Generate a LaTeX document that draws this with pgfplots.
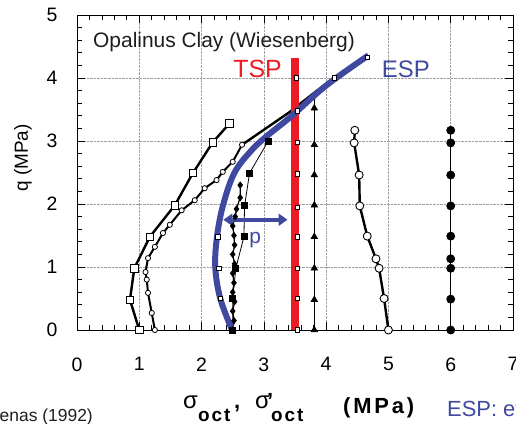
\documentclass[border=0pt]{standalone}
\usepackage{pgfplots}
\pgfplotsset{compat=1.18}
\usepackage{fontspec}
\setmainfont{Liberation Sans}
\usetikzlibrary{arrows.meta}
\definecolor{espblue}{RGB}{64,73,160}
\definecolor{tspred}{RGB}{237,28,36}
\definecolor{txtgray}{RGB}{30,30,30}
\begin{document}
\begin{tikzpicture}
\begin{axis}[name=ax, scale only axis, width=436bp, height=315bp,
  xmin=0, xmax=7, ymin=0, ymax=5,
  xtick={0,1,...,7}, ytick={0,1,...,5},
  minor x tick num=4, minor y tick num=4,
  tick align=inside, tick pos=both,
  major tick length=8bp, minor tick length=5bp,
  every tick/.style={black, line width=0.7pt},
  grid=major, major grid style={densely dotted, gray!75, line width=0.7pt},
  axis line style={line width=0.9pt},
  /pgf/number format/assume math mode=true,
  ticklabel style={font=\fontsize{19.5}{19.5}\selectfont},
  xticklabel shift=24bp, yticklabel shift=16bp,
  clip=false]
% series A: open squares, thick
\addplot[black, line width=2.4bp, mark=square*, mark size=3.8bp, mark options={draw=black, fill=white, line width=0.9bp}]
 coordinates {(1.0,0) (0.85,0.48) (0.92,0.98) (1.17,1.48) (1.57,1.98) (1.86,2.49) (2.18,2.98) (2.45,3.28)};
% thick joint line upper
\addplot[black, line width=2.4bp] coordinates {(2.65,2.94) (3.4,3.45) (3.84,3.79) (4.13,4.0) (4.66,4.33)};
% series B: small open circles
\addplot[black, line width=2bp, mark=*, mark size=2.6bp, mark options={draw=black, fill=white, line width=0.8bp}]
 coordinates {(1.25,0) (1.2,0.27) (1.14,0.59) (1.12,0.8) (1.1,0.92) (1.14,1.14) (1.25,1.32) (1.38,1.54) (1.49,1.67) (1.68,1.9) (1.89,2.06) (2.05,2.25) (2.24,2.38) (2.34,2.51) (2.5,2.67) (2.65,2.94)};
% small open squares
\addplot[only marks, mark=square*, mark size=2.2bp, mark options={draw=black, fill=white, line width=0.7bp}]
 coordinates {(3.54,0) (3.54,0.5) (3.54,0.98) (3.54,1.48) (3.54,1.95) (3.54,2.48) (3.54,2.98) (3.54,3.48) (3.52,4.0) (4.13,4.0) (4.66,4.33) (2.3,0.5) (2.28,0.98) (2.26,1.48)};
% series C: filled diamonds
\addplot[black, line width=1.2bp, mark=diamond*, mark size=2.8bp]
 coordinates {(2.5,0) (2.52,0.15) (2.5,0.3) (2.53,0.45) (2.5,0.6) (2.52,0.75) (2.5,0.9) (2.53,1.05) (2.5,1.2) (2.53,1.35) (2.52,1.5) (2.5,1.65) (2.54,1.8) (2.56,1.92) (2.62,2.1) (2.62,2.3)};
% series D: filled squares thin
\addplot[black, line width=0.8bp, mark=square*, mark size=3bp]
 coordinates {(2.5,0) (2.5,0.5) (2.55,0.98) (2.68,1.48) (2.69,1.97) (2.77,2.49) (3.07,3.0)};
% series E: filled triangles
\addplot[black, line width=0.8bp, mark=triangle*, mark size=3.6bp]
 coordinates {(3.81,0) (3.81,0.48) (3.81,0.98) (3.81,1.48) (3.81,1.98) (3.81,2.46) (3.81,2.94) (3.81,3.52)};
\addplot[black, line width=0.8bp] coordinates {(3.81,3.52) (3.82,3.79)};
% series F: large open circles
\addplot[black, line width=2.4bp, mark=*, mark size=4bp, mark options={draw=black, fill=white, line width=0.9bp}]
 coordinates {(5.0,0) (4.93,0.5) (4.85,0.98) (4.8,1.13) (4.66,1.49) (4.54,1.97) (4.53,2.46) (4.45,2.97) (4.46,3.17)};
% series G: filled circles
\addplot[black, line width=0.8bp, mark=*, mark size=4bp]
 coordinates {(6,0) (6,0.49) (6,0.98) (6,1.13) (6,1.49) (6,1.97) (6,2.46) (6,2.97) (6,3.17)};
% TSP
\addplot[tspred, line width=8bp] coordinates {(3.5,0) (3.5,4.32)};
% ESP
\addplot[espblue, line width=6bp, smooth, tension=0.6] coordinates {(2.49,0) (2.3,0.5) (2.22,1.0) (2.25,1.5) (2.35,2.0) (2.53,2.5) (2.8,2.85) (3.05,3.08) (3.45,3.4) (4.0,3.88) (4.68,4.36)};
\draw[espblue, line width=3.5bp, {Triangle[length=9bp,width=12bp]}-{Triangle[length=9bp,width=12bp]}] (axis cs:2.35,1.75) -- (axis cs:3.38,1.75);
\node[espblue, anchor=base, font=\fontsize{21}{21}\selectfont, inner sep=0pt] at (axis cs:2.86,1.38) {p};
\node[tspred, anchor=center, font=\fontsize{25}{25}\selectfont, inner sep=0pt] at (axis cs:2.9,4.14) {TSP};
\node[espblue, anchor=center, font=\fontsize{24}{24}\selectfont, inner sep=0pt] at (axis cs:5.28,4.14) {ESP};
\node[txtgray, anchor=base west, font=\fontsize{21}{21}\selectfont, inner sep=0pt] at (axis cs:0.257,4.48) {Opalinus Clay (Wiesenberg)};
\end{axis}
\node[rotate=90, anchor=center, font=\fontsize{19}{19}\selectfont, inner sep=0pt] at ([xshift=-54bp, yshift=172bp]ax.south west) {q (MPa)};
% x label pieces
\node[anchor=base west, inner sep=0pt, font=\fontsize{24}{24}\selectfont] at ([xshift=106bp, yshift=-78bp]ax.south west) {σ};
\node[anchor=base west, inner sep=0pt, font=\fontsize{19}{19}\selectfont\bfseries\addfontfeatures{LetterSpace=10}] at ([xshift=121bp, yshift=-91bp]ax.south west) {oct};
\node[anchor=base west, inner sep=0pt, font=\fontsize{22}{22}\selectfont\bfseries] at ([xshift=157bp, yshift=-78bp]ax.south west) {,};
\node[anchor=base west, inner sep=0pt, font=\fontsize{24}{24}\selectfont] at ([xshift=178bp, yshift=-78bp]ax.south west) {σ};
\node[anchor=base west, inner sep=0pt, font=\fontsize{22}{22}\selectfont\bfseries] at ([xshift=190bp, yshift=-78bp]ax.south west) {'};
\node[anchor=base west, inner sep=0pt, font=\fontsize{19}{19}\selectfont\bfseries\addfontfeatures{LetterSpace=10}] at ([xshift=194bp, yshift=-91bp]ax.south west) {oct};
\node[anchor=base west, inner sep=0pt, font=\fontsize{22}{22}\selectfont\bfseries\addfontfeatures{LetterSpace=13}] at ([xshift=266bp, yshift=-83bp]ax.south west) {(MPa)};
\node[anchor=base east, txtgray, font=\fontsize{17.5}{17.5}\selectfont, inner sep=0pt] at ([xshift=16bp, yshift=-91bp]ax.south west) {Aristorenas (1992)};
\node[anchor=base west, espblue, font=\fontsize{22}{22}\selectfont, inner sep=0pt] at ([xshift=370bp, yshift=-86bp]ax.south west) {ESP: effective stress path};
\pgfresetboundingbox
\path[use as bounding box] ([xshift=-77bp, yshift=-93bp]ax.south west) rectangle ([xshift=3bp, yshift=15bp]ax.north east);
\end{tikzpicture}
\end{document}
